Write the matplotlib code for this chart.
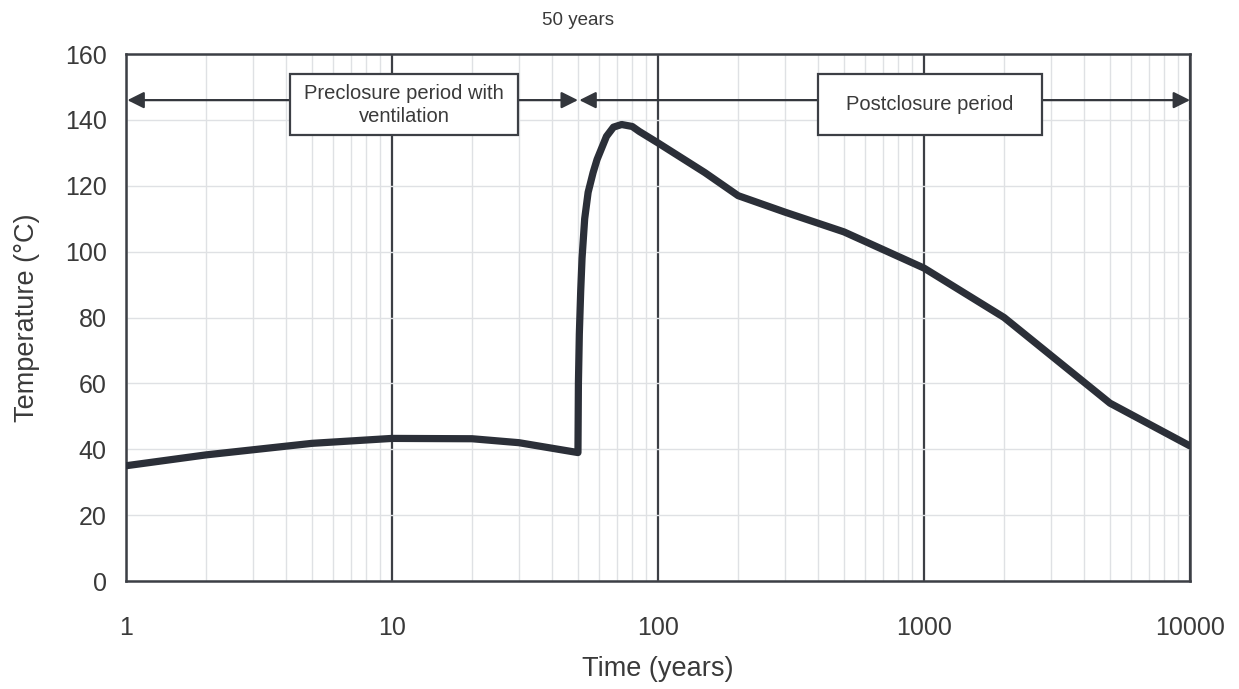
import matplotlib.pyplot as plt
from matplotlib.patches import Rectangle
from matplotlib.ticker import FixedLocator, NullFormatter

plt.rcParams['font.family'] = ['Liberation Sans', 'DejaVu Sans']

# temperature history
time_yr = [1, 2, 5, 10, 20, 30, 50, 50.2, 50.6, 51.2, 51.8, 53, 54.6, 57, 59,
           64, 68, 73, 80, 85, 100, 150, 200, 300, 500, 1000, 2000, 5000, 10000]
temp_c = [35, 38.3, 41.8, 43.3, 43.2, 42, 39, 60, 75, 88, 98, 110, 118, 124, 128,
          135, 137.8, 138.6, 138, 136.5, 133, 124, 117, 112, 106, 95, 80, 54, 41]

x_ticks = [1, 10, 100, 1000, 10000]
x_labels = ["1", "10", "100", "1000", "10000"]
y_ticks = [0, 20, 40, 60, 80, 100, 120, 140, 160]

line_col = "#2b2f38"
text_col = "#3a3a3a"

fig = plt.figure(figsize=(12.39, 6.89), dpi=100)
ax = fig.add_axes([0.1017, 0.1567, 0.8588, 0.7649])

ax.set_xscale("log")
ax.set_xlim(1, 10000)
ax.set_ylim(0, 160)

# grid: light minor verticals and horizontals, dark decade lines
minor = [m * 10 ** d for d in range(4) for m in range(2, 10)]
ax.xaxis.set_minor_locator(FixedLocator(minor))
ax.xaxis.set_minor_formatter(NullFormatter())
ax.set_xticks(x_ticks)
ax.set_xticklabels(x_labels)
ax.set_yticks(y_ticks)
ax.grid(True, which="minor", axis="x", color="#dfe1e4", lw=1.0)
ax.grid(True, which="major", axis="y", color="#dfe1e4", lw=1.0)
ax.grid(True, which="major", axis="x", color="#3c3f45", lw=1.6)
ax.set_axisbelow(True)
for s in ax.spines.values():
    s.set_color("#3c3f45")
    s.set_linewidth(1.8)

ax.tick_params(axis="both", which="both", length=0, labelsize=18, colors=text_col)
ax.tick_params(axis="x", pad=25)
ax.tick_params(axis="y", pad=14)

ax.plot(time_yr, temp_c, color=line_col, lw=5.2, solid_joinstyle="round",
        solid_capstyle="round", zorder=3)

ax.set_xlabel("Time (years)", fontsize=19.5, color=text_col, labelpad=12)
ax.set_ylabel("Temperature (\u00b0C)", fontsize=19.5, color=text_col, labelpad=18)

# period arrows
arrow_y = 146
periods = [(1, 50), (50, 10000)]
for x0, x1 in periods:
    ax.annotate("", xy=(x0, arrow_y), xytext=(x1, arrow_y),
                arrowprops=dict(arrowstyle="<|-|>", color="#33363c", lw=1.6,
                                mutation_scale=25, shrinkA=0, shrinkB=1),
                zorder=4)

# labelled boxes
boxes = [(4.14, 29.8, "Preclosure period with\nventilation"),
         (400, 2780, "Postclosure period")]
box_lo, box_hi = 135.3, 153.8
for x0, x1, label in boxes:
    ax.add_patch(Rectangle((x0, box_lo), x1 - x0, box_hi - box_lo,
                           facecolor="white", edgecolor="#3c3f45", lw=1.6,
                           zorder=5))
    xc = (x0 * x1) ** 0.5
    ax.text(xc, (box_lo + box_hi) / 2, label, ha="center", va="center",
            fontsize=14.5, color=text_col, zorder=6, linespacing=1.25)

ax.text(50, 170.2, "50 years", ha="center", va="center", fontsize=13.5,
        color=text_col, clip_on=False)

fig.savefig("out.png", dpi=100)
